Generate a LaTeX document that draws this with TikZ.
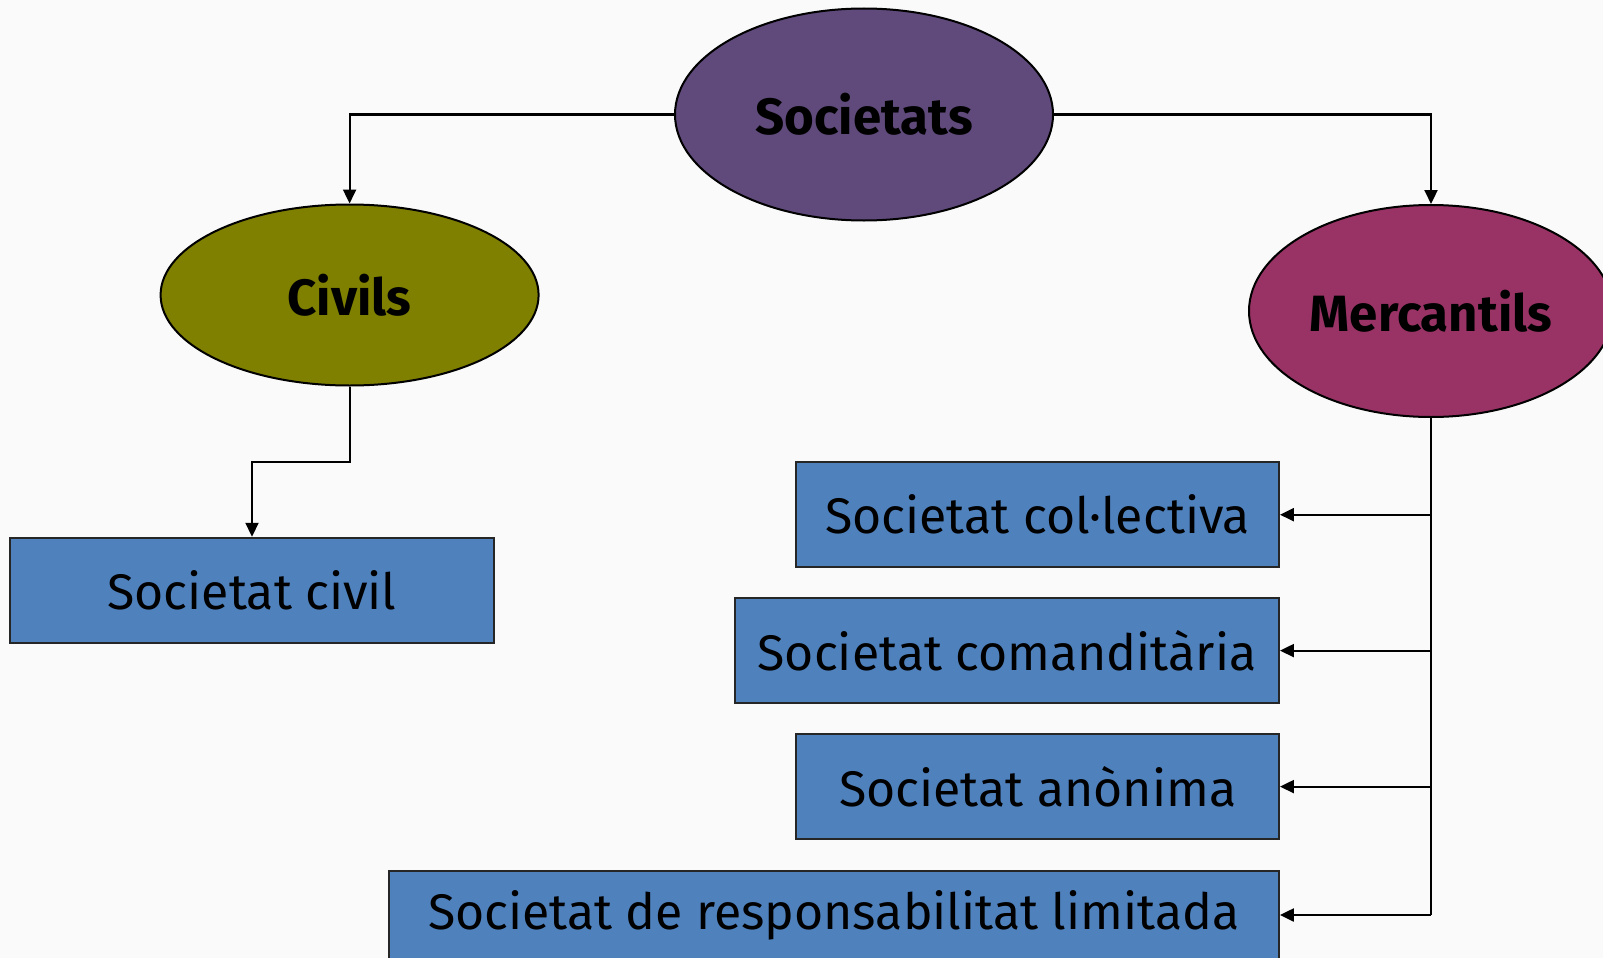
\documentclass[tikz,border=0pt]{standalone}
\usepackage{fontspec}
\setmainfont{Fira Sans}
\usetikzlibrary{shapes.geometric,arrows.meta}
\definecolor{bgc}{HTML}{FAFAFA}
\definecolor{purp}{HTML}{604A7B}
\definecolor{oliv}{HTML}{808000}
\definecolor{plum}{HTML}{993366}
\definecolor{boxblue}{HTML}{4F81BD}
\tikzset{
  oval/.style={ellipse, draw=black, line width=2pt, inner sep=0pt,
    font=\fontsize{51}{60}\selectfont\bfseries},
  kind/.style={rectangle, draw=black!85, line width=2pt, fill=boxblue, inner sep=0pt,
    font=\fontsize{50}{60}\selectfont},
  link/.style={line width=2.2pt, draw=black},
  arr/.style={link, -{Triangle[length=14pt,width=13pt]}}
}
\begin{document}
\begin{tikzpicture}[x=1pt,y=-1pt]
\path[fill=bgc] (0,0) rectangle (1603,958);
\useasboundingbox (0,0) rectangle (1603,958);
\begin{scope}
\clip (0,0) rectangle (1603,958);
\node[oval, fill=purp, minimum width=378pt, minimum height=212pt] (soc) at (864,114.5) {Societats};
\node[oval, fill=oliv, minimum width=378pt, minimum height=181pt] (civ) at (349.6,295) {Civils};
\node[oval, fill=plum, minimum width=364pt, minimum height=212pt] (mer) at (1431,311) {Mercantils};

\node[kind, minimum width=483.6pt, minimum height=105.3pt] (civil) at (252,590.4) {Societat civil};
\node[kind, minimum width=482.5pt, minimum height=105.4pt] (col) at (1037.7,514.7) {Societat col·lectiva};
\node[kind, minimum width=543.9pt, minimum height=105.3pt] (com) at (1007,650.6) {Societat comanditària};
\node[kind, minimum width=482.5pt, minimum height=105.3pt] (ano) at (1037.7,786.6) {Societat anònima};
\node[kind, minimum width=890.4pt, minimum height=88pt] (lim) at (833.7,915) {Societat de responsabilitat limitada};

\draw[arr] (soc.west) -| (civ.north);
\draw[arr] (soc.east) -| (mer.north);
\coordinate (celbow) at (349.6,462);
\draw[arr] (civ.south) -- (celbow) -| (civil.north);
\coordinate (trunk) at (mer.south |- lim.east);
\draw[link] (mer.south) -- (trunk);
\draw[arr] (mer.south |- col.east) -- (col.east);
\draw[arr] (mer.south |- com.east) -- (com.east);
\draw[arr] (mer.south |- ano.east) -- (ano.east);
\draw[arr] (trunk) -- (lim.east);
\end{scope}
\end{tikzpicture}
\end{document}
